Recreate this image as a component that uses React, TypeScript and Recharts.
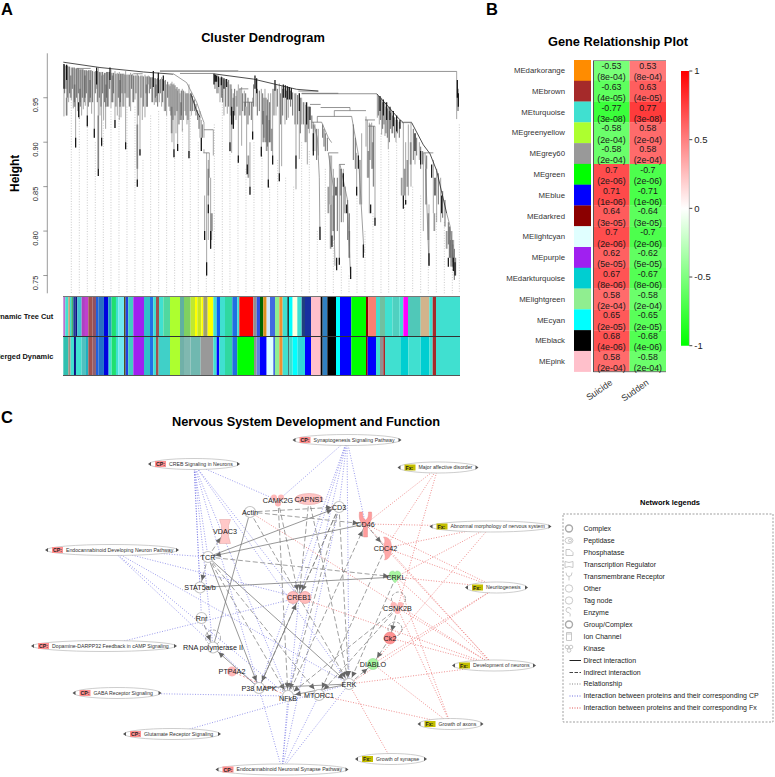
import {
  Bar,
  BarChart,
  Cell,
  ComposedChart,
  LabelList,
  Line,
  ReferenceArea,
  ReferenceLine,
  Scatter,
  ScatterChart,
  XAxis,
  YAxis,
} from "recharts";

const FONT = "'Liberation Sans', Arial, sans-serif";

// ---- A: dendrogram. x = leaf rank, heights ----
const heightTicks = [0.75, 0.8, 0.85, 0.9, 0.95];

// [leaf, top height, bottom height]
const thinStems = [
  [192, 0.988, 0.929], [200, 0.987, 0.93], [206, 0.985, 0.945], [214, 0.984, 0.947], [220, 0.984, 0.938],
  [227, 0.983, 0.894], [233, 0.983, 0.935], [238, 0.982, 0.926], [245, 0.982, 0.93], [250, 0.982, 0.937],
  [256, 0.981, 0.941], [262, 0.98, 0.917], [268, 0.981, 0.945], [275, 0.981, 0.932], [283, 0.979, 0.905],
  [290, 0.98, 0.96], [295, 0.984, 0.862], [300, 0.978, 0.93], [305, 0.975, 0.895], [311, 0.976, 0.925],
  [317, 0.978, 0.915], [326, 0.979, 0.94], [333, 0.982, 0.938], [345, 0.98, 0.916], [352, 0.978, 0.93],
  [358, 0.979, 0.925], [363, 0.977, 0.928], [372, 0.977, 0.94], [377, 0.98, 0.892], [385, 0.976, 0.95],
  [392, 0.978, 0.935], [398, 0.977, 0.945], [405, 0.975, 0.948], [412, 0.977, 0.85], [420, 0.974, 0.885],
  [427, 0.975, 0.925], [435, 0.976, 0.928], [445, 0.975, 0.965], [455, 0.973, 0.945], [463, 0.972, 0.942],
  [470, 0.971, 0.952], [478, 0.97, 0.945], [485, 0.973, 0.94], [493, 0.969, 0.935], [500, 0.965, 0.93],
  [510, 0.963, 0.935], [516, 0.968, 0.9], [522, 0.966, 0.883], [528, 0.96, 0.91], [533, 0.958, 0.89],
  [540, 0.955, 0.925], [547, 0.96, 0.912], [555, 0.957, 0.935], [561, 0.955, 0.92], [567, 0.965, 0.882],
  [574, 0.956, 0.93], [600, 0.935, 0.905], [604, 0.925, 0.89], [612, 0.922, 0.905], [640, 0.914, 0.885],
  [612, 0.892, 0.888], [620, 0.888, 0.75], [628, 0.888, 0.86], [632, 0.86, 0.78], [637, 0.82, 0.8],
  [625, 0.88, 0.79], [614, 0.84, 0.79],
  [650, 0.975, 0.955], [660, 0.972, 0.945], [672, 0.97, 0.93], [682, 0.968, 0.932], [690, 0.965, 0.89],
  [695, 0.96, 0.888], [700, 0.955, 0.915], [708, 0.952, 0.925], [715, 0.965, 0.877], [725, 0.962, 0.896],
  [733, 0.958, 0.93], [740, 0.94, 0.864], [750, 0.9, 0.841], [758, 0.95, 0.903], [768, 0.97, 0.94],
  [784, 0.96, 0.884], [795, 0.96, 0.9], [805, 0.955, 0.849], [812, 0.955, 0.9], [818, 0.96, 0.875],
  [828, 0.965, 0.93], [838, 0.966, 0.856], [845, 0.963, 0.873], [855, 0.96, 0.92], [865, 0.962, 0.9275],
  [888, 0.955, 0.847], [898, 0.955, 0.881], [905, 0.95, 0.92], [915, 0.945, 0.9], [922, 0.94, 0.875],
  [928, 0.94, 0.91], [945, 0.92, 0.89], [955, 0.915, 0.885],
  [995, 0.885, 0.784], [1000, 0.87, 0.8], [1018, 0.875, 0.762], [1030, 0.87, 0.81], [1070, 0.888, 0.84],
  [1085, 0.91, 0.83], [1098, 0.929, 0.895], [1102, 0.925, 0.86], [1108, 0.922, 0.82], [1115, 0.922, 0.87],
  [1125, 0.918, 0.806],
  [1132, 0.954, 0.9275], [1138, 0.95, 0.92], [1145, 0.95, 0.9085], [1155, 0.945, 0.907], [1165, 0.94, 0.892],
  [1175, 0.935, 0.91], [1188, 0.925, 0.9], [1210, 0.922, 0.835], [1217, 0.9, 0.83], [1225, 0.92, 0.84],
  [1233, 0.922, 0.85], [1245, 0.91, 0.875], [1258, 0.9, 0.88], [1270, 0.888, 0.8], [1287, 0.83, 0.761],
  [1300, 0.88, 0.82], [1310, 0.87, 0.81], [1322, 0.86, 0.81], [1350, 0.805, 0.77], [1356, 0.8, 0.76],
  [1361, 0.79, 0.755], [1370, 0.9796, 0.926],
];

// the short crowded branches under each ridge
const crowdStems = [
  [194, 0.987, 0.955], [198, 0.986, 0.96], [203, 0.986, 0.95], [209, 0.985, 0.955], [217, 0.984, 0.96],
  [223, 0.984, 0.945], [230, 0.983, 0.95], [235, 0.983, 0.955], [241, 0.982, 0.94], [247, 0.982, 0.95],
  [253, 0.981, 0.945], [259, 0.981, 0.955], [265, 0.981, 0.94], [271, 0.981, 0.95], [278, 0.98, 0.945],
  [286, 0.98, 0.955], [292, 0.98, 0.945], [298, 0.979, 0.95], [303, 0.979, 0.94], [308, 0.979, 0.955],
  [314, 0.978, 0.945], [320, 0.979, 0.95], [323, 0.979, 0.94], [329, 0.979, 0.96], [336, 0.978, 0.945],
  [341, 0.978, 0.955], [348, 0.977, 0.94], [355, 0.977, 0.95], [361, 0.977, 0.945], [366, 0.977, 0.955],
  [369, 0.977, 0.94], [375, 0.976, 0.955], [381, 0.976, 0.95], [388, 0.976, 0.94], [395, 0.976, 0.96],
  [401, 0.975, 0.945], [408, 0.975, 0.955], [415, 0.975, 0.93], [423, 0.975, 0.95], [430, 0.974, 0.94],
  [438, 0.974, 0.955], [442, 0.974, 0.94], [448, 0.974, 0.955], [452, 0.973, 0.96], [458, 0.973, 0.945],
  [466, 0.972, 0.95], [473, 0.972, 0.94], [481, 0.971, 0.955], [488, 0.971, 0.945], [496, 0.97, 0.935],
  [503, 0.968, 0.95], [507, 0.965, 0.94], [513, 0.966, 0.93], [519, 0.965, 0.925], [525, 0.964, 0.93],
  [531, 0.962, 0.935], [537, 0.96, 0.92], [544, 0.958, 0.93], [550, 0.958, 0.925], [558, 0.955, 0.93],
  [564, 0.955, 0.925], [571, 0.954, 0.935], [577, 0.952, 0.935], [583, 0.948, 0.935], [588, 0.943, 0.93],
  [593, 0.936, 0.925], [597, 0.93, 0.915], [607, 0.92, 0.905],
  [645, 0.976, 0.96], [654, 0.975, 0.955], [664, 0.974, 0.95], [668, 0.973, 0.945], [677, 0.971, 0.94],
  [686, 0.97, 0.94], [693, 0.965, 0.93], [704, 0.96, 0.93], [711, 0.958, 0.94], [720, 0.96, 0.93],
  [728, 0.955, 0.935], [737, 0.955, 0.94], [744, 0.95, 0.92], [748, 0.945, 0.93], [754, 0.945, 0.925],
  [761, 0.965, 0.94], [772, 0.96, 0.93], [778, 0.958, 0.935], [788, 0.955, 0.92], [792, 0.95, 0.905],
  [798, 0.95, 0.9], [802, 0.948, 0.895], [809, 0.945, 0.9], [822, 0.96, 0.93], [832, 0.96, 0.94],
  [842, 0.955, 0.92], [848, 0.96, 0.93], [860, 0.958, 0.925], [872, 0.958, 0.94], [878, 0.956, 0.93],
  [885, 0.955, 0.92], [893, 0.953, 0.92], [901, 0.95, 0.91], [910, 0.945, 0.92], [918, 0.942, 0.9],
  [925, 0.94, 0.915],
  [940, 0.92, 0.89], [950, 0.915, 0.88], [968, 0.92, 0.905], [972, 0.915, 0.895], [976, 0.91, 0.89],
  [982, 0.905, 0.89], [990, 0.885, 0.83], [1003, 0.86, 0.79], [1012, 0.86, 0.8], [1024, 0.87, 0.81],
  [1035, 0.85, 0.82], [1043, 0.835, 0.79], [1048, 0.82, 0.77], [1060, 0.92, 0.88], [1066, 0.905, 0.87],
  [1080, 0.88, 0.83], [1110, 0.92, 0.88], [1120, 0.918, 0.85],
  [1135, 0.952, 0.93], [1142, 0.948, 0.925], [1148, 0.945, 0.915], [1152, 0.944, 0.92], [1158, 0.94, 0.91],
  [1162, 0.938, 0.905], [1168, 0.935, 0.9], [1172, 0.933, 0.915], [1178, 0.93, 0.91], [1184, 0.928, 0.905],
  [1192, 0.925, 0.91], [1198, 0.923, 0.905], [1240, 0.915, 0.88], [1250, 0.905, 0.885], [1262, 0.895, 0.87],
  [1268, 0.89, 0.875], [1280, 0.885, 0.87], [1315, 0.865, 0.83], [1328, 0.845, 0.815], [1335, 0.835, 0.805],
  [1345, 0.81, 0.785], [1348, 0.805, 0.77], [1353, 0.8, 0.76], [1358, 0.79, 0.76], [1363, 0.78, 0.745],
  [1367, 0.77, 0.75],
];

// black ends and clumps
const darkStems = [
  [192, 0.988, 0.96], [200, 0.987, 0.97], [227, 0.905, 0.894], [236, 0.945, 0.928], [262, 0.93, 0.918],
  [283, 0.915, 0.905], [295, 0.87, 0.862], [305, 0.905, 0.896], [345, 0.925, 0.916], [377, 0.9, 0.892],
  [412, 0.858, 0.85], [420, 0.892, 0.885], [522, 0.892, 0.883], [533, 0.898, 0.89], [567, 0.89, 0.882],
  [290, 0.984, 0.965], [330, 0.984, 0.97], [460, 0.98, 0.962], [475, 0.978, 0.955], [490, 0.975, 0.958],
  [604, 0.905, 0.89], [620, 0.765, 0.75], [632, 0.8, 0.78], [614, 0.8, 0.79], [625, 0.83, 0.82],
  [642, 0.977, 0.965], [646, 0.976, 0.968], [650, 0.975, 0.968], [656, 0.974, 0.962], [664, 0.973, 0.964],
  [672, 0.972, 0.96], [680, 0.971, 0.962], [690, 0.9, 0.89], [695, 0.94, 0.92], [700, 0.935, 0.915],
  [715, 0.885, 0.877], [742, 0.875, 0.864], [750, 0.85, 0.841], [758, 0.912, 0.903], [765, 0.975, 0.96],
  [770, 0.972, 0.955], [784, 0.895, 0.884], [805, 0.858, 0.849], [818, 0.885, 0.875], [825, 0.97, 0.958],
  [838, 0.865, 0.856], [850, 0.965, 0.95], [856, 0.964, 0.95], [862, 0.963, 0.948], [868, 0.962, 0.948],
  [874, 0.961, 0.948], [888, 0.885, 0.87], [898, 0.955, 0.935], [920, 0.945, 0.92], [930, 0.94, 0.925],
  [940, 0.91, 0.885], [960, 0.805, 0.79], [1010, 0.77, 0.756], [1018, 0.77, 0.762], [1052, 0.76, 0.746],
  [1030, 0.865, 0.85], [1075, 0.885, 0.87], [1090, 0.785, 0.77], [1070, 0.85, 0.84], [1112, 0.83, 0.82],
  [1125, 0.815, 0.806], [1140, 0.952, 0.935], [1150, 0.948, 0.93], [1160, 0.945, 0.925], [1170, 0.94, 0.925],
  [1180, 0.935, 0.918], [1190, 0.93, 0.912], [1200, 0.925, 0.915], [1210, 0.84, 0.825], [1217, 0.835, 0.83],
  [1245, 0.91, 0.89], [1262, 0.89, 0.875], [1287, 0.775, 0.761], [1295, 0.875, 0.86], [1305, 0.86, 0.84],
  [1325, 0.84, 0.82], [1345, 0.77, 0.76], [1360, 0.77, 0.755], [1365, 0.765, 0.75], [1372, 0.97, 0.95],
  [1375, 0.955, 0.94], [996, 0.795, 0.782], [1008, 0.85, 0.84], [1040, 0.83, 0.82],
];

// wide grey smears on the stems
const greyStems = [
  [200, 0.95, 0.93], [212, 0.975, 0.95], [224, 0.965, 0.94], [240, 0.96, 0.945], [255, 0.975, 0.95],
  [270, 0.97, 0.945], [295, 0.93, 0.87], [318, 0.965, 0.94], [338, 0.975, 0.945], [360, 0.97, 0.94],
  [412, 0.92, 0.87], [440, 0.965, 0.94], [468, 0.965, 0.945], [515, 0.94, 0.91], [543, 0.945, 0.925],
  [625, 0.87, 0.84], [634, 0.82, 0.79], [700, 0.95, 0.92], [735, 0.945, 0.93], [745, 0.885, 0.86],
  [790, 0.935, 0.9], [800, 0.93, 0.89], [808, 0.925, 0.9], [815, 0.915, 0.89], [935, 0.93, 0.915],
  [985, 0.85, 0.82], [992, 0.83, 0.78], [1000, 0.84, 0.8], [1022, 0.87, 0.84], [1048, 0.8, 0.77],
  [1105, 0.89, 0.86], [1118, 0.9, 0.87], [1205, 0.86, 0.84], [1214, 0.87, 0.84], [1222, 0.88, 0.85],
  [1232, 0.9, 0.875], [1278, 0.87, 0.83], [1285, 0.82, 0.79], [1303, 0.82, 0.8], [1340, 0.8, 0.78],
  [1352, 0.79, 0.77], [1358, 0.785, 0.765], [1374, 0.96, 0.935],
];

// [from leaf, to leaf, height]
const merges = [
  [715, 1370, 0.9796], [540, 640, 0.9773], [895, 955, 0.9575], [905, 1015, 0.955], [905, 1130, 0.9545],
  [930, 962, 0.9425], [962, 1050, 0.939], [1003, 1098, 0.9355], [952, 1055, 0.929], [935, 965, 0.9225],
  [1095, 1125, 0.925], [1105, 1125, 0.918], [985, 1015, 0.888], [1210, 1235, 0.9225], [1270, 1300, 0.888],
  [612, 640, 0.914], [610, 628, 0.888], [718, 745, 0.96], [730, 760, 0.945], [1018, 1035, 0.875],
  [230, 272, 0.983], [400, 428, 0.977], [1050, 1050, 0.939],
];

// sloped runs along the ridge of each cluster: [leaf, height] pairs
const blackRidges = [
  [[190, 0.99], [300, 0.984], [430, 0.979], [520, 0.9765]],
  [[480, 0.98], [715, 0.98]],
  [[640, 0.977], [760, 0.971], [890, 0.9595], [955, 0.9575]],
  [[1130, 0.9545], [1165, 0.94], [1195, 0.927], [1210, 0.922]],
  [[572, 0.955], [590, 0.935], [600, 0.928]],
  [[1235, 0.922], [1270, 0.897], [1290, 0.887]],
  [[1290, 0.887], [1310, 0.868], [1340, 0.82]],
];

const greyRidges = [
  [[520, 0.977], [560, 0.967], [590, 0.945], [605, 0.929], [612, 0.922]],
  [[940, 0.9225], [952, 0.905], [958, 0.86], [960, 0.79]],
  [[965, 0.9225], [985, 0.905], [995, 0.8995]],
  [[985, 0.888], [1000, 0.85], [1005, 0.761]],
  [[1020, 0.875], [1042, 0.836], [1052, 0.746]],
  [[1055, 0.929], [1075, 0.886], [1092, 0.776]],
  [[1275, 0.888], [1280, 0.836], [1287, 0.761]],
  [[1340, 0.82], [1350, 0.806], [1365, 0.753]],
  [[1205, 0.922], [1235, 0.922]],
  [[1003, 0.9355], [1003, 0.929]],
  [[1050, 0.939], [1050, 0.9355]],
  [[952, 0.929], [952, 0.9225]],
];

const guideLeaves = [
  214, 238, 262, 286, 310, 333, 357, 381, 405, 429, 452, 476, 500, 524, 548, 571, 595, 619, 643, 667, 690, 714, 738,
  762, 786, 809, 833, 857, 881, 905, 928, 952, 976, 1000, 1024, 1047, 1071, 1095, 1119, 1143, 1166, 1190, 1214, 1238,
  1262, 1285, 1309, 1333, 1357, 1378,
];
const guideTops = [
  0.945, 0.93, 0.92, 0.9, 0.925, 0.935, 0.93, 0.94, 0.94, 0.88, 0.93, 0.935, 0.93, 0.885, 0.915, 0.93, 0.9, 0.75, 0.92,
  0.96, 0.89, 0.88, 0.87, 0.9, 0.885, 0.85, 0.88, 0.86, 0.85, 0.9, 0.89, 0.8, 0.87, 0.79, 0.76, 0.75, 0.84, 0.8, 0.82,
  0.91, 0.89, 0.9, 0.83, 0.85, 0.84, 0.76, 0.82, 0.81, 0.76, 0.92,
];

// ---- A: module colour rows ----
const treeCutColors = [
  "#BA70D0", "#40E0D0", "#C9A07A", "#40E0D0", "#3CB371", "#1A3A9A", "#101080", "#40C0D0", "#B040C0", "#C040D0",
  "#A0524D", "#905060", "#2060E0", "#2A70C0", "#0000E0", "#20A0C0", "#20E070", "#40E0D0", "#70E8F0", "#505020",
  "#2040E0", "#40D0C0", "#A020F0", "#30C0C8", "#2070E8", "#40E0D0", "#A05050", "#40E0D0", "#50D8A0", "#ADFF2F",
  "#60B0A0", "#80D060", "#C0E830", "#FFFF00", "#C8E820", "#FFFF00", "#A0A070", "#FFFF00", "#40E0D0", "#1060F0",
  "#40E0D0", "#30D8A0", "#2070E0", "#40E0D0", "#FF0000", "#909090", "#3050E0", "#006400", "#E09020", "#D0E8FF",
  "#4169E1", "#90EE90", "#F09030", "#40E0D0", "#104040", "#00FFFF", "#FFFFE0", "#40E0D0", "#204080", "#1830A0",
  "#FFC0CB", "#000000", "#3080C0", "#000000", "#00FFFF", "#0000FF", "#00FF00", "#8B0000", "#FA8072", "#40E0D0",
  "#70C0A0", "#40E0D0", "#50D0C0", "#40E0D0", "#FF00FF", "#50C8B8", "#D2B48C", "#40E0D0", "#A52A2A", "#40E0D0",
];
const treeCutWidths = [
  6, 9, 5, 4, 6, 6, 6, 13, 10, 10, 13, 10, 7, 17, 13, 10, 13, 7, 17, 5, 8, 15, 32, 18, 10, 8, 9, 13, 20, 30, 12, 20, 13,
  7, 12, 6, 13, 17, 10, 10, 15, 22, 15, 6, 42, 10, 10, 10, 10, 10, 15, 13, 10, 14, 5, 11, 14, 13, 10, 18, 29, 6, 14, 26,
  12, 34, 44, 7, 23, 12, 15, 23, 20, 12, 14, 38, 26, 10, 10, 72,
];
const mergedColors = [
  "#30C0B0", "#A09080", "#40E0D0", "#101080", "#40E0D0", "#50C0C0", "#20B0C0", "#A0524D", "#906070", "#2060E0",
  "#2070C8", "#0000E0", "#40E0D0", "#20E070", "#40E0D0", "#70E8F0", "#505020", "#2040E0", "#40D0C0", "#A020F0",
  "#30C0C8", "#2070E8", "#40E0D0", "#A05050", "#40D0C8", "#ADFF2F", "#70B0A8", "#80B8B0", "#70B8B0", "#999999",
  "#40E0D0", "#0000FF", "#40E0D0", "#30D8A0", "#2070E0", "#00FF00", "#909090", "#6080E0", "#0000FF", "#E0FFFF",
  "#4169E1", "#90EE90", "#F09030", "#40E0D0", "#104040", "#40E0D0", "#00FFFF", "#30D8D8", "#0000FF", "#FFC0CB",
  "#000000", "#3080C0", "#000000", "#00FFFF", "#0000FF", "#00FF00", "#8B0000", "#0000FF", "#40E0D0", "#909090",
  "#A52A2A", "#40E0D0", "#00CED1", "#40E0D0", "#00CED1", "#40E0D0", "#A52A2A", "#40E0D0",
];
const mergedWidths = [
  15, 7, 10, 6, 17, 13, 7, 13, 10, 8, 16, 14, 9, 13, 7, 17, 5, 8, 15, 32, 18, 10, 8, 8, 34, 30, 12, 20, 30, 38, 10, 8,
  17, 22, 15, 50, 8, 10, 20, 20, 5, 13, 10, 17, 3, 10, 15, 22, 18, 29, 6, 14, 26, 12, 34, 44, 5, 25, 12, 10, 5, 48, 22,
  37, 26, 10, 10, 72,
];
const rowNames = ["Dynamic Tree Cut", "Merged Dynamic"];

// ---- B: module / trait table ----
const moduleNames = [
  "MEdarkorange", "MEbrown", "MEturquoise", "MEgreenyellow", "MEgrey60", "MEgreen", "MEblue", "MEdarkred",
  "MElightcyan", "MEpurple", "MEdarkturquoise", "MElightgreen", "MEcyan", "MEblack", "MEpink",
];
const moduleColors = [
  "#FF8C00", "#A52A2A", "#40E0D0", "#ADFF2F", "#999999", "#00FF00", "#0000FF", "#8B0000", "#E0FFFF", "#A020F0",
  "#00CED1", "#90EE90", "#00FFFF", "#000000", "#FFC0CB",
];
const suicideCor = [-0.53, -0.63, -0.77, -0.58, -0.58, 0.7, 0.71, 0.64, 0.7, 0.62, 0.67, 0.58, 0.65, 0.68, 0.58];
const suddenCor = [0.53, 0.63, 0.77, 0.58, 0.58, -0.7, -0.71, -0.64, -0.7, -0.62, -0.67, -0.58, -0.65, -0.68, -0.58];
const corPvalues = [
  "8e-04", "4e-05", "3e-08", "2e-04", "2e-04", "2e-06", "1e-06", "3e-05", "2e-06", "5e-05", "8e-06", "2e-04", "2e-05",
  "4e-06", "2e-04",
];
const traitNames = ["Suicide", "Sudden"];
const scaleTicks = [-1, -0.5, 0, 0.5, 1];

// ---- C: network, in layout units of the drawing ----
type Gene = [string, number, number, string];
const genes: Gene[] = [
  ["CAMK2G", 278, 500.5, "kinase"],
  ["CAPNS1", 309, 499, "oval"],
  ["CD3", 339, 507, "ring"],
  ["Actin", 250, 512, "ring"],
  ["VDAC3", 225, 531.5, "channel"],
  ["TCR", 208, 557, "ring"],
  ["STAT5a/b", 200, 587.5, "ring"],
  ["CD46", 365.5, 524, "receptor"],
  ["CDC42", 385.5, 548, "crescent"],
  ["CRKL", 396, 577, "heart"],
  ["CSNK2B", 397.5, 608, "kinaseLoop"],
  ["Ck2", 390, 638, "redLoop"],
  ["DIABLO", 373, 664, "green"],
  ["CREB1", 299, 597.5, "twin"],
  ["Rnr", 201.5, 618, "ring"],
  ["RNA polymerase II", 213, 647.5, "polymerase"],
  ["PTP4A2", 232, 671.5, "pinkDot"],
  ["P38 MAPK", 259, 688, "ring"],
  ["NFkB", 288, 696, "nfkb"],
  ["MTORC1", 319, 695, "ring"],
  ["ERK", 349, 684, "ring"],
];

type Pathway = [string, string, number, number, number];
const pathways: Pathway[] = [
  ["CP", "Synaptogenesis Signaling Pathway", 347, 440, 107],
  ["CP", "CREB Signaling in Neurons", 194, 464, 90],
  ["CP", "Endocannabinoid Developing Neuron Pathway", 112, 550, 132],
  ["CP", "Dopamine-DARPP32 Feedback in cAMP Signaling", 104, 646, 144],
  ["CP", "GABA Receptor Signaling", 117, 693, 87],
  ["CP", "Glutamate Receptor Signaling", 172, 734, 96],
  ["CP", "Endocannabinoid Neuronal Synapse Pathway", 282, 769.5, 131],
  ["Fx", "Major affective disorder", 438, 467.5, 79],
  ["Fx", "Abnormal morphology of nervous system", 490.5, 526.5, 120],
  ["Fx", "Neuritogenesis", 496.5, 587.5, 61],
  ["Fx", "Development of neurons", 494, 665.5, 82],
  ["Fx", "Growth of axons", 450.5, 724, 64],
  ["Fx", "Growth of synapse", 391, 759, 70],
];

const directArrows = [
  ["CD46", "TCR"], ["TCR", "CD3"], ["P38 MAPK", "RNA polymerase II"], ["P38 MAPK", "CREB1"], ["TCR", "ERK"],
  ["TCR", "P38 MAPK"], ["ERK", "NFkB"],
];
const directPlain = [["Actin", "RNA polymerase II"], ["STAT5a/b", "CRKL"], ["P38 MAPK", "ERK"]];
const indirectArrows = [
  ["CAMK2G", "CREB1"], ["Actin", "CD46"], ["Actin", "CD3"], ["CD46", "CDC42"], ["TCR", "VDAC3"], ["TCR", "STAT5a/b"],
  ["Rnr", "RNA polymerase II"], ["CSNK2B", "Ck2"], ["Ck2", "DIABLO"], ["ERK", "DIABLO"], ["CD3", "CREB1"],
  ["CD3", "NFkB"], ["CD3", "P38 MAPK"], ["NFkB", "CD46"], ["CDC42", "MTORC1"], ["CSNK2B", "NFkB"], ["CSNK2B", "MTORC1"],
  ["CRKL", "ERK"], ["CAPNS1", "ERK"], ["CAPNS1", "CREB1"], ["TCR", "CRKL"], ["Actin", "ERK"], ["TCR", "NFkB"],
  ["CAMK2G", "NFkB"], ["CD3", "ERK"], ["TCR", "MTORC1"],
];

const cpLinks: [string, string[]][] = [
  ["Synaptogenesis Signaling Pathway", ["CAMK2G", "CD3", "CD46", "CREB1", "NFkB", "ERK", "P38 MAPK"]],
  ["CREB Signaling in Neurons", ["CAMK2G", "TCR", "STAT5a/b", "Rnr", "RNA polymerase II", "CREB1", "P38 MAPK", "ERK", "NFkB"]],
  ["Endocannabinoid Developing Neuron Pathway", ["TCR", "CREB1", "P38 MAPK", "NFkB", "ERK"]],
  ["Dopamine-DARPP32 Feedback in cAMP Signaling", ["CREB1"]],
  ["GABA Receptor Signaling", ["NFkB"]],
  ["Glutamate Receptor Signaling", ["ERK"]],
  ["Endocannabinoid Neuronal Synapse Pathway", ["P38 MAPK", "NFkB", "CREB1", "ERK", "CD3", "MTORC1"]],
];
const fxLinks: [string, string[]][] = [
  ["Major affective disorder", ["CD46", "CDC42", "CSNK2B"]],
  ["Abnormal morphology of nervous system", ["CD46", "CDC42", "CRKL", "DIABLO"]],
  ["Neuritogenesis", ["CD46", "CDC42", "CRKL", "DIABLO", "ERK"]],
  ["Development of neurons", ["CDC42", "CRKL", "CSNK2B", "Ck2", "CREB1", "ERK", "CD46", "Actin"]],
  ["Growth of axons", ["CSNK2B", "DIABLO", "MTORC1", "CRKL"]],
  ["Growth of synapse", ["ERK"]],
];
const pinkLinks = [["PTP4A2", "NFkB"]];

const legendRows: [string, string, number][] = [
  ["Complex", "lgRing", 528.5],
  ["Peptidase", "lgPeptidase", 540.5],
  ["Phosphatase", "lgPhosphatase", 552.5],
  ["Transcription Regulator", "lgRegulator", 564.5],
  ["Transmembrane Receptor", "lgReceptor", 576.5],
  ["Other", "lgCircle", 588.5],
  ["Tag node", "lgCircle", 600.5],
  ["Enzyme", "lgEnzyme", 612.5],
  ["Group/Complex", "lgRing", 624.5],
  ["Ion Channel", "lgChannel", 636.5],
  ["Kinase", "lgKinase", 648.5],
  ["Direct interaction", "lgDirect", 660.5],
  ["Indirect interaction", "lgIndirect", 672.5],
  ["Relationship", "lgRelation", 684],
  ["Interaction between proteins and their corresponding CP", "lgBlue", 696],
  ["Interaction between proteins and their corresponding Fx", "lgRed", 708],
];

// ---- helpers that turn the lists into series ----
const stemPath = (stems: number[][]) =>
  stems.flatMap(([x, top, bottom]) => [{ x, h: top }, { x, h: bottom }, { x, h: null }]);
const mergePath = (rows: number[][]) =>
  rows.flatMap(([a, b, h]) => [{ x: a, h }, { x: b, h }, { x: b, h: null }]);
const ridgePath = (runs: number[][][]) =>
  runs.flatMap((run) => [...run.map(([x, h]) => ({ x, h })), { x: run[run.length - 1][0], h: null }]);

const treeRows = rowNames.map((row, r) => {
  const out: Record<string, number | string> = { row };
  (r === 0 ? treeCutWidths : mergedWidths).forEach((w, i) => {
    out[`${r === 0 ? "t" : "m"}${i}`] = w;
  });
  return out;
});

const moduleRows = moduleNames.map((module, i) => ({
  module,
  swatch: 1,
  suicideCell: 1,
  suddenCell: 1,
  color: moduleColors[i],
}));

const heat = (v: number) => {
  const c = Math.round(255 * (1 - Math.abs(v)));
  return v >= 0 ? `rgb(255,${c},${c})` : `rgb(${c},255,${c})`;
};

const geneAt = (name: string) => {
  const g = genes.find((d) => d[0] === name)!;
  return { x: g[1], y: g[2] };
};
const pathwayAt = (name: string) => {
  const p = pathways.find((d) => d[1] === name)!;
  return { x: p[2], y: p[3] };
};

const geneData = genes.map(([name, x, y, kind]) => ({ name, x, y, kind }));
const pathwayData = pathways.map(([tag, label, x, y, width]) => ({ tag, label, x, y, width }));
const legendData = legendRows.map(([label, icon, y]) => ({ label, icon, x: 569, y }));

// ---- small pieces ----
const Caption = ({ x, y, size, children, center, weight = 700 }: any) => (
  <div
    style={{
      position: "absolute",
      left: x,
      top: y - size * 0.6,
      fontFamily: FONT,
      fontSize: size,
      fontWeight: weight,
      lineHeight: `${size * 1.2}px`,
      color: "#000",
      whiteSpace: "nowrap",
      transform: center ? "translateX(-50%)" : undefined,
    }}
  >
    {children}
  </div>
);

const BandTick = ({ x, y, payload }: any) => (
  <text x={x} y={y + 2.5} textAnchor="end" fontFamily={FONT} fontSize={7.4} fontWeight={700} fill="#111">
    {payload.value}
  </text>
);

const ring = { fill: "#fff", stroke: "#c4c4c4", strokeWidth: 1.1 };
const pink = { fill: "#FFC4C4", stroke: "#e8a8a8", strokeWidth: 0.6 };

const GeneMark = ({ cx, cy, payload }: any) => {
  const { kind, name } = payload;
  let mark = null;
  let dy = 0;
  if (kind === "ring") mark = <circle cx={cx} cy={cy} r={5.5} {...ring} />;
  if (kind === "oval") mark = <ellipse cx={cx} cy={cy} rx={14} ry={5.5} {...pink} />;
  if (kind === "pinkDot") mark = <circle cx={cx} cy={cy} r={5} fill="#FFB8B8" stroke="none" />;
  if (kind === "green") mark = <circle cx={cx} cy={cy} r={5.5} fill="#A8F5A0" stroke="#8fd88f" strokeWidth={0.6} />;
  if (kind === "kinase" || kind === "kinaseLoop") {
    mark = (
      <g>
        {kind === "kinaseLoop" && (
          <circle cx={cx + 1} cy={cy - 9} r={7} fill="none" stroke="#777" strokeWidth={0.7} strokeDasharray="3 2" />
        )}
        <circle cx={cx - 4} cy={cy - 3} r={3} fill="#FFB8B8" />
        <circle cx={cx + 3} cy={cy - 3} r={3} fill="#FFB8B8" />
        <circle cx={cx} cy={cy + 3} r={3} fill="#FFB8B8" />
      </g>
    );
  }
  if (kind === "redLoop") {
    mark = (
      <g>
        <circle cx={cx + 5} cy={cy - 9} r={7} fill="none" stroke="#777" strokeWidth={0.7} strokeDasharray="3 2" />
        <circle cx={cx} cy={cy} r={6} fill="#FF9090" stroke="#e07878" strokeWidth={0.5} />
      </g>
    );
  }
  if (kind === "channel") {
    mark = (
      <path
        d={`M${cx - 5.5} ${cy - 12}h11l-2 6v11l2 7h-11l2 -7v-11z`}
        fill="#FFC8C8"
        stroke="#e0a0a0"
        strokeWidth={0.5}
      />
    );
  }
  if (kind === "receptor") {
    mark = (
      <path
        d={`M${cx - 6} ${cy - 12}l3 0c0 5 1 7 3 8c2 -1 3 -3 3 -8l3 0c1 7 -1 11 -4 13v12h-4v-12c-3 -2 -5 -6 -4 -13z`}
        fill="#FF9C9C"
        stroke="#e08080"
        strokeWidth={0.4}
      />
    );
  }
  if (kind === "crescent") {
    mark = (
      <path
        d={`M${cx - 2} ${cy - 11}c7 0 8 6 8 11s-1 11 -7 12c2 -4 -1 -8 -1 -12s3 -7 0 -11z`}
        fill="#FFA8A8"
        stroke="#e88c8c"
        strokeWidth={0.4}
      />
    );
  }
  if (kind === "heart") {
    mark = (
      <path
        d={`M${cx - 1} ${cy + 6}l-5 -6c-2 -3 0 -6 3 -6c1 0 2 1 2 2c0 -1 1 -2 2 -2c3 0 5 3 3 6z`}
        fill="#A8F5A0"
        stroke="#90d890"
        strokeWidth={0.4}
      />
    );
  }
  if (kind === "twin") {
    mark = (
      <g>
        <circle cx={cx - 6} cy={cy} r={6} fill="#FFBCBC" stroke="#e09090" strokeWidth={0.6} />
        <circle cx={cx + 6} cy={cy} r={6} fill="#FFBCBC" stroke="#e09090" strokeWidth={0.6} />
      </g>
    );
  }
  if (kind === "polymerase") {
    mark = (
      <g>
        <circle cx={cx} cy={cy - 10} r={7.5} fill="none" stroke="#888" strokeWidth={0.7} strokeDasharray="3 2" />
        <circle cx={cx} cy={cy} r={5.5} {...ring} />
      </g>
    );
  }
  if (kind === "nfkb") {
    dy = 2;
    mark = (
      <g>
        <circle cx={cx} cy={cy - 8} r={5.5} fill="none" stroke="#888" strokeWidth={0.7} strokeDasharray="2.5 2" />
        <circle cx={cx} cy={cy} r={5.5} {...ring} />
      </g>
    );
  }
  return (
    <g>
      {mark}
      <text x={cx} y={cy + 2.6 + dy} textAnchor="middle" fontFamily={FONT} fontSize={7.2} fill="#1a1a1a">
        {name}
      </text>
    </g>
  );
};

const PathwayMark = ({ cx, cy, payload }: any) => {
  const { tag, label, width } = payload;
  const left = cx - width / 2;
  return (
    <g>
      <ellipse cx={cx} cy={cy} rx={width / 2} ry={5.5} fill="#fff" stroke="#b8b8b8" strokeWidth={0.7} />
      <path d={`M${left - 1} ${cy}l3 -2v4z`} fill="#555" />
      <path d={`M${left + width + 1} ${cy}l-3 -2v4z`} fill="#555" />
      <rect x={left + 6} y={cy - 3} width={11} height={6} fill={tag === "CP" ? "#FF8F8F" : "#C4BE00"} />
      <text x={left + 7} y={cy + 2} fontFamily={FONT} fontSize={5.2} fontWeight={700} fill="#222">
        {tag}:
      </text>
      <text x={left + 20} y={cy + 1.9} fontFamily={FONT} fontSize={5.2} fill="#333">
        {label}
      </text>
    </g>
  );
};

const LegendMark = ({ cx, cy, payload }: any) => {
  const { label, icon } = payload;
  const stroke = { fill: "none", stroke: "#bbb", strokeWidth: 0.8 };
  let mark = null;
  if (icon === "lgRing") mark = <circle cx={cx} cy={cy} r={3.5} fill="none" stroke="#aaa" strokeWidth={1.4} />;
  if (icon === "lgCircle") mark = <circle cx={cx} cy={cy} r={3.7} {...stroke} />;
  if (icon === "lgPeptidase")
    mark = (
      <g>
        <ellipse cx={cx} cy={cy} rx={4} ry={3} {...stroke} />
        <circle cx={cx + 1} cy={cy} r={1.5} {...stroke} />
      </g>
    );
  if (icon === "lgPhosphatase") mark = <path d={`M${cx - 3} ${cy - 3}h4l3 3v3h-7z`} {...stroke} />;
  if (icon === "lgRegulator") mark = <path d={`M${cx - 4} ${cy - 3}q4 2 8 0v6q-4 -2 -8 0z`} {...stroke} />;
  if (icon === "lgReceptor") mark = <path d={`M${cx - 3} ${cy - 4}q0 4 3 4q3 0 3 -4M${cx} ${cy}v4`} {...stroke} />;
  if (icon === "lgEnzyme") mark = <path d={`M${cx + 2} ${cy - 3}a2.5 2.5 0 1 0 -2 3q2 1 1 4`} {...stroke} />;
  if (icon === "lgChannel") mark = <path d={`M${cx - 2.5} ${cy - 4}h5v8h-5zM${cx - 2.5} ${cy - 2.5}h5`} {...stroke} />;
  if (icon === "lgKinase")
    mark = (
      <g>
        <circle cx={cx - 2} cy={cy - 1.5} r={1.8} {...stroke} />
        <circle cx={cx + 2} cy={cy - 1.5} r={1.8} {...stroke} />
        <circle cx={cx} cy={cy + 2} r={1.8} {...stroke} />
      </g>
    );
  const lineRow = (color: string, dash?: string, w = 0.9) => (
    <line x1={cx + 0.5} x2={cx + 12} y1={cy} y2={cy} stroke={color} strokeWidth={w} strokeDasharray={dash} />
  );
  if (icon === "lgDirect") mark = lineRow("#222", undefined, 1);
  if (icon === "lgIndirect") mark = lineRow("#444", "3.5 1.5", 1);
  if (icon === "lgRelation") mark = lineRow("#777", "1 1.5");
  if (icon === "lgBlue") mark = lineRow("#6060dd", "1 1.5");
  if (icon === "lgRed") mark = lineRow("#dd4444", "1 1.5");
  return (
    <g>
      {mark}
      <text x={cx + 14.5} y={cy + 2.4} fontFamily={FONT} fontSize={7} fill="#222">
        {label}
      </text>
    </g>
  );
};

const CorText = ({ values, x, y, width, index }: any) => {
  const cx = x + width / 2;
  return (
    <g fontFamily={FONT} fontSize={8.8} fill="#1a1a1a" textAnchor="middle">
      <text x={cx} y={y + 9}>{values[index]}</text>
      <text x={cx} y={y + 20.3}>({corPvalues[index]})</text>
    </g>
  );
};

const Edge = ({ from, to, ...rest }: any) => (
  <ReferenceLine segment={[from, to]} ifOverflow="visible" {...rest} />
);

export default function App() {
  return (
    <div style={{ position: "absolute", left: 0, top: 0, width: 775, height: 777, background: "#fff", overflow: "hidden" }}>
      <Caption x={1} y={10} size={16.5}>A</Caption>
      <Caption x={486} y={10} size={16.5}>B</Caption>
      <Caption x={1} y={418} size={16.5}>C</Caption>
      <Caption x={263} y={38} size={12.8} center>Cluster Dendrogram</Caption>
      <Caption x={618} y={42} size={12.8} center>Gene Relationship Plot</Caption>
      <Caption x={306} y={422} size={12.8} center>Nervous System Development and Function</Caption>
      <Caption x={670} y={502} size={7.5} center>Network legends</Caption>

      {/* A: dendrogram */}
      <div style={{ position: "absolute", left: 0, top: 0 }}>
        <ComposedChart width={470} height={300} margin={{ top: 53.3, right: 10, bottom: 6.7, left: 0 }}>
          <XAxis dataKey="x" type="number" domain={[142, 1380]} hide />
          <YAxis
            type="number"
            domain={[0.73, 1]}
            ticks={heightTicks}
            width={47.3}
            angle={-90}
            tick={{ fontSize: 7.5, fill: "#222", fontFamily: FONT, dx: -6 }}
            tickFormatter={(v: number) => v.toFixed(2)}
            tickSize={4}
            stroke="#555"
            strokeWidth={0.6}
            label={{ value: "Height", angle: -90, position: "insideLeft", offset: 15, style: { fontFamily: FONT, fontSize: 12, fontWeight: 700, fill: "#000", textAnchor: "middle" } }}
          />
          <Line
            data={guideLeaves.flatMap((x, i) => [{ x, h: guideTops[i] }, { x, h: 0.73 }, { x, h: null }])}
            dataKey="h"
            stroke="#b5b5b5"
            strokeWidth={0.7}
            strokeDasharray="1 1.6"
            dot={false}
            isAnimationActive={false}
          />
          <Line data={stemPath(greyStems)} dataKey="h" stroke="#9a9a9a" strokeWidth={1.7} dot={false} isAnimationActive={false} />
          <Line data={stemPath(crowdStems)} dataKey="h" stroke="#5c5c5c" strokeWidth={0.9} dot={false} isAnimationActive={false} />
          <Line data={stemPath(thinStems)} dataKey="h" stroke="#6a6a6a" strokeWidth={0.6} dot={false} isAnimationActive={false} />
          <Line data={ridgePath(greyRidges)} dataKey="h" stroke="#777" strokeWidth={0.7} dot={false} isAnimationActive={false} />
          <Line data={mergePath(merges)} dataKey="h" stroke="#666" strokeWidth={0.7} dot={false} isAnimationActive={false} />
          <Line data={stemPath(darkStems)} dataKey="h" stroke="#111" strokeWidth={1.2} dot={false} isAnimationActive={false} />
          <Line data={ridgePath(blackRidges)} dataKey="h" stroke="#222" strokeWidth={0.8} dot={false} isAnimationActive={false} />
        </ComposedChart>
      </div>

      {/* A: colour rows */}
      <div style={{ position: "absolute", left: 0, top: 296.7 }}>
        <BarChart width={470} height={79} layout="vertical" data={treeRows} barCategoryGap={0} margin={{ top: 0, right: 10, bottom: 0, left: 0 }}>
          <XAxis type="number" domain={[0, 1190]} hide />
          <YAxis type="category" dataKey="row" width={63.3} axisLine={false} tickLine={false} tickMargin={4} interval={0} tick={BandTick} />
          {treeCutColors.map((c, i) => (
            <Bar key={`t${i}`} dataKey={`t${i}`} stackId="row" fill={c} isAnimationActive={false} />
          ))}
          {mergedColors.map((c, i) => (
            <Bar key={`m${i}`} dataKey={`m${i}`} stackId="row" fill={c} isAnimationActive={false} />
          ))}
        </BarChart>
      </div>
      <div style={{ position: "absolute", left: 63.3, top: 296.2, width: 396.7, height: 1, background: "#777" }} />
      <div style={{ position: "absolute", left: 63.3, top: 335.7, width: 396.7, height: 1, background: "#333" }} />
      <div style={{ position: "absolute", left: 63.3, top: 375.2, width: 396.7, height: 1, background: "#555" }} />

      {/* B: module swatches */}
      <div style={{ position: "absolute", left: 480, top: 60 }}>
        <BarChart width={111} height={311.7} layout="vertical" data={moduleRows} barCategoryGap={0} margin={{ top: 0, right: 0, bottom: 0, left: 0 }}>
          <XAxis type="number" domain={[0, 1]} hide />
          <YAxis
            type="category"
            dataKey="module"
            width={94}
            axisLine={false}
            tickLine={false}
            tickMargin={3}
            interval={0}
            tick={{ fontSize: 7.8, fill: "#333", fontFamily: FONT }}
          />
          <Bar dataKey="swatch" isAnimationActive={false}>
            {moduleRows.map((m) => (
              <Cell key={m.module} fill={m.color} />
            ))}
          </Bar>
        </BarChart>
      </div>

      {/* B: correlation cells */}
      <div style={{ position: "absolute", left: 560, top: 60 }}>
        <BarChart width={110} height={350} layout="vertical" data={moduleRows} barCategoryGap={0} margin={{ top: 0, right: 4, bottom: 0, left: 33.3 }}>
          <XAxis
            type="number"
            domain={[0, 2]}
            ticks={[0.5, 1.5]}
            height={38.3}
            interval={0}
            tickFormatter={(v: number) => traitNames[Math.floor(v)]}
            angle={-35}
            textAnchor="end"
            tickLine={false}
            tickMargin={1}
            axisLine={{ stroke: "#777" }}
            tick={{ fontSize: 9, fill: "#333", fontFamily: FONT, dx: -2 }}
          />
          <YAxis type="category" dataKey="module" hide />
          <Bar dataKey="suicideCell" stackId="c" isAnimationActive={false}>
            {suicideCor.map((v, i) => (
              <Cell key={i} fill={heat(v)} />
            ))}
            <LabelList content={(p: any) => <CorText {...p} values={suicideCor} />} />
          </Bar>
          <Bar dataKey="suddenCell" stackId="c" isAnimationActive={false}>
            {suddenCor.map((v, i) => (
              <Cell key={i} fill={heat(v)} />
            ))}
            <LabelList content={(p: any) => <CorText {...p} values={suddenCor} />} />
          </Bar>
        </BarChart>
      </div>
      <div style={{ position: "absolute", left: 593, top: 60, width: 1, height: 312, background: "#555" }} />
      <div style={{ position: "absolute", left: 593, top: 60, width: 73, height: 1, background: "#999" }} />

      {/* B: colour scale */}
      <div style={{ position: "absolute", left: 660, top: 60 }}>
        <BarChart width={115} height={300} data={[{ name: "scale", range: [-1, 1] }]} barCategoryGap={0} margin={{ top: 11, right: 0, bottom: 14.3, left: 21 }}>
          <defs>
            <linearGradient id="heatScale" x1="0" y1="0" x2="0" y2="1">
              <stop offset="0%" stopColor="#ff0000" />
              <stop offset="50%" stopColor="#ffffff" />
              <stop offset="100%" stopColor="#00ff00" />
            </linearGradient>
          </defs>
          <XAxis dataKey="name" hide />
          <YAxis
            orientation="right"
            type="number"
            domain={[-1, 1]}
            ticks={scaleTicks}
            width={85.7}
            tickSize={3}
            axisLine={{ stroke: "#999", strokeWidth: 0.6 }}
            tickLine={{ stroke: "#444" }}
            tick={{ fontSize: 9.5, fill: "#222", fontFamily: FONT }}
          />
          <Bar dataKey="range" fill="url(#heatScale)" isAnimationActive={false} />
        </BarChart>
      </div>

      {/* C: network and its legend */}
      <div style={{ position: "absolute", left: 0, top: 430 }}>
        <ScatterChart width={775} height={347} margin={{ top: 0, right: 0, bottom: 0, left: 0 }}>
          <defs>
            <marker id="head" markerUnits="userSpaceOnUse" markerWidth="5.5" markerHeight="5.5" refX="14" refY="3" orient="auto" viewBox="0 0 6 6" overflow="visible">
              <path d="M0 0L6 3L0 6z" fill="#666" />
            </marker>
          </defs>
          <XAxis type="number" dataKey="x" domain={[0, 775]} hide />
          <YAxis type="number" dataKey="y" domain={[430, 777]} reversed hide />
          <ReferenceArea x1={563} x2={773} y1={514} y2={722} fill="none" stroke="#777" strokeWidth={0.7} strokeDasharray="2 1.5" ifOverflow="visible" />
          {cpLinks.flatMap(([p, list]) =>
            list.map((g) => (
              <Edge key={`${p}-${g}`} from={pathwayAt(p)} to={geneAt(g)} stroke="#7070e4" strokeWidth={0.7} strokeDasharray="1 1.6" />
            )),
          )}
          {fxLinks.flatMap(([p, list]) =>
            list.map((g) => (
              <Edge key={`${p}-${g}`} from={pathwayAt(p)} to={geneAt(g)} stroke="#e86060" strokeWidth={0.7} strokeDasharray="1 1.6" />
            )),
          )}
          {pinkLinks.map(([a, b]) => (
            <Edge key={a + b} from={geneAt(a)} to={geneAt(b)} stroke="#e88" strokeWidth={0.8} strokeDasharray="2 2" />
          ))}
          {indirectArrows.map(([a, b]) => (
            <Edge key={a + b} from={geneAt(a)} to={geneAt(b)} stroke="#808080" strokeWidth={0.75} strokeDasharray="5 2.5" markerEnd="url(#head)" />
          ))}
          {directArrows.map(([a, b]) => (
            <Edge key={a + b} from={geneAt(a)} to={geneAt(b)} stroke="#757575" strokeWidth={0.75} markerEnd="url(#head)" />
          ))}
          {directPlain.map(([a, b]) => (
            <Edge key={a + b} from={geneAt(a)} to={geneAt(b)} stroke="#757575" strokeWidth={0.75} />
          ))}
          <Scatter data={pathwayData} shape={PathwayMark} isAnimationActive={false} />
          <Scatter data={geneData} shape={GeneMark} isAnimationActive={false} />
          <Scatter data={legendData} shape={LegendMark} isAnimationActive={false} />
        </ScatterChart>
      </div>
    </div>
  );
}
